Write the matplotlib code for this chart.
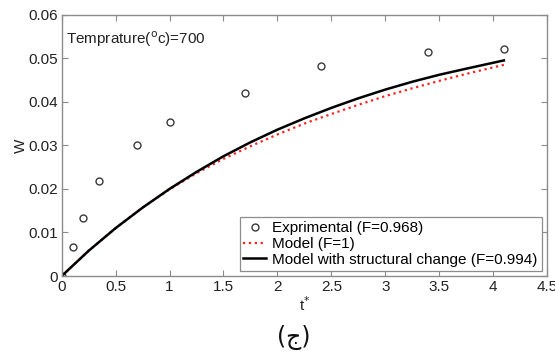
import matplotlib
matplotlib.use("Agg")
import matplotlib.pyplot as plt

plt.rcParams["font.family"] = ["Liberation Sans", "DejaVu Sans"]
plt.rcParams["font.size"] = 11

# experimental points
t_exp = [0.0, 0.1, 0.2, 0.35, 0.7, 1.0, 1.7, 2.4, 3.4, 4.1]
w_exp = [0.0, 0.0066, 0.0134, 0.0218, 0.0301, 0.0354, 0.0421, 0.0482, 0.0515, 0.0522]

# model curves
t_model = [0.0, 0.25, 0.5, 0.75, 1.0, 1.25, 1.5, 1.75, 2.0, 2.25,
           2.5, 2.75, 3.0, 3.25, 3.5, 3.75, 4.1]
w_model_f1 = [0.0, 0.0058, 0.0110, 0.0157, 0.0199, 0.0236, 0.0269, 0.0298, 0.0325,
              0.0350, 0.0372, 0.0393, 0.0413, 0.0431, 0.0448, 0.0464, 0.0485]
w_model_sc = [0.0, 0.0058, 0.0110, 0.0157, 0.0200, 0.0239, 0.0275, 0.0307, 0.0336,
              0.0362, 0.0386, 0.0408, 0.0428, 0.0446, 0.0462, 0.0476, 0.0495]

x_ticks = [0, 0.5, 1, 1.5, 2, 2.5, 3, 3.5, 4, 4.5]
x_tick_labels = ["0", "0.5", "1", "1.5", "2", "2.5", "3", "3.5", "4", "4.5"]
y_ticks = [0, 0.01, 0.02, 0.03, 0.04, 0.05, 0.06]
y_tick_labels = ["0", "0.01", "0.02", "0.03", "0.04", "0.05", "0.06"]

fig = plt.figure(figsize=(5.55, 3.54), dpi=100)
fig.patch.set_facecolor("white")
ax = fig.add_axes([0.1112, 0.2203, 0.8744, 0.7382])

ax.plot(t_exp, w_exp, "o", markerfacecolor="none", markeredgecolor="#3a3a3a",
        markersize=5, markeredgewidth=1.0, label="Exprimental (F=0.968)")
ax.plot(t_model, w_model_f1, linestyle=":", color="#ff2020", linewidth=1.6,
        label="Model (F=1)")
ax.plot(t_model, w_model_sc, linestyle="-", color="black", linewidth=1.8,
        label="Model with structural change (F=0.994)")

ax.set_xlim(0, 4.5)
ax.set_ylim(0, 0.06)
ax.set_xticks(x_ticks)
ax.set_xticklabels(x_tick_labels)
ax.set_yticks(y_ticks)
ax.set_yticklabels(y_tick_labels)

for spine in ax.spines.values():
    spine.set_color("#8c8c8c")
    spine.set_linewidth(1.0)
ax.tick_params(direction="in", length=4, width=0.8, color="#8c8c8c",
               labelcolor="#222222", top=True, right=True, labelsize=11, pad=3)

ax.text(0.008, 0.905, r"Temprature($^{\rm o}$c)=700", transform=ax.transAxes,
        fontsize=11, color="#222222", ha="left", va="center")

ax.set_ylabel("W", fontsize=11, color="#222222", labelpad=0)
ax.set_xlabel(r"t$^{*}$", fontsize=11, color="#222222", labelpad=1)

leg = ax.legend(loc="lower right", fontsize=11, handlelength=1.45,
                borderpad=0.25, labelspacing=0.12, handletextpad=0.45,
                borderaxespad=0.35, fancybox=False, framealpha=1)
leg.get_frame().set_edgecolor("#8c8c8c")
leg.get_frame().set_linewidth(0.9)

fig.text(0.53, 0.048, "(ج)", fontsize=17, ha="center", va="center",
         family=["DejaVu Sans"], color="#111111")

fig.savefig("out.png", dpi=100, facecolor="white")
